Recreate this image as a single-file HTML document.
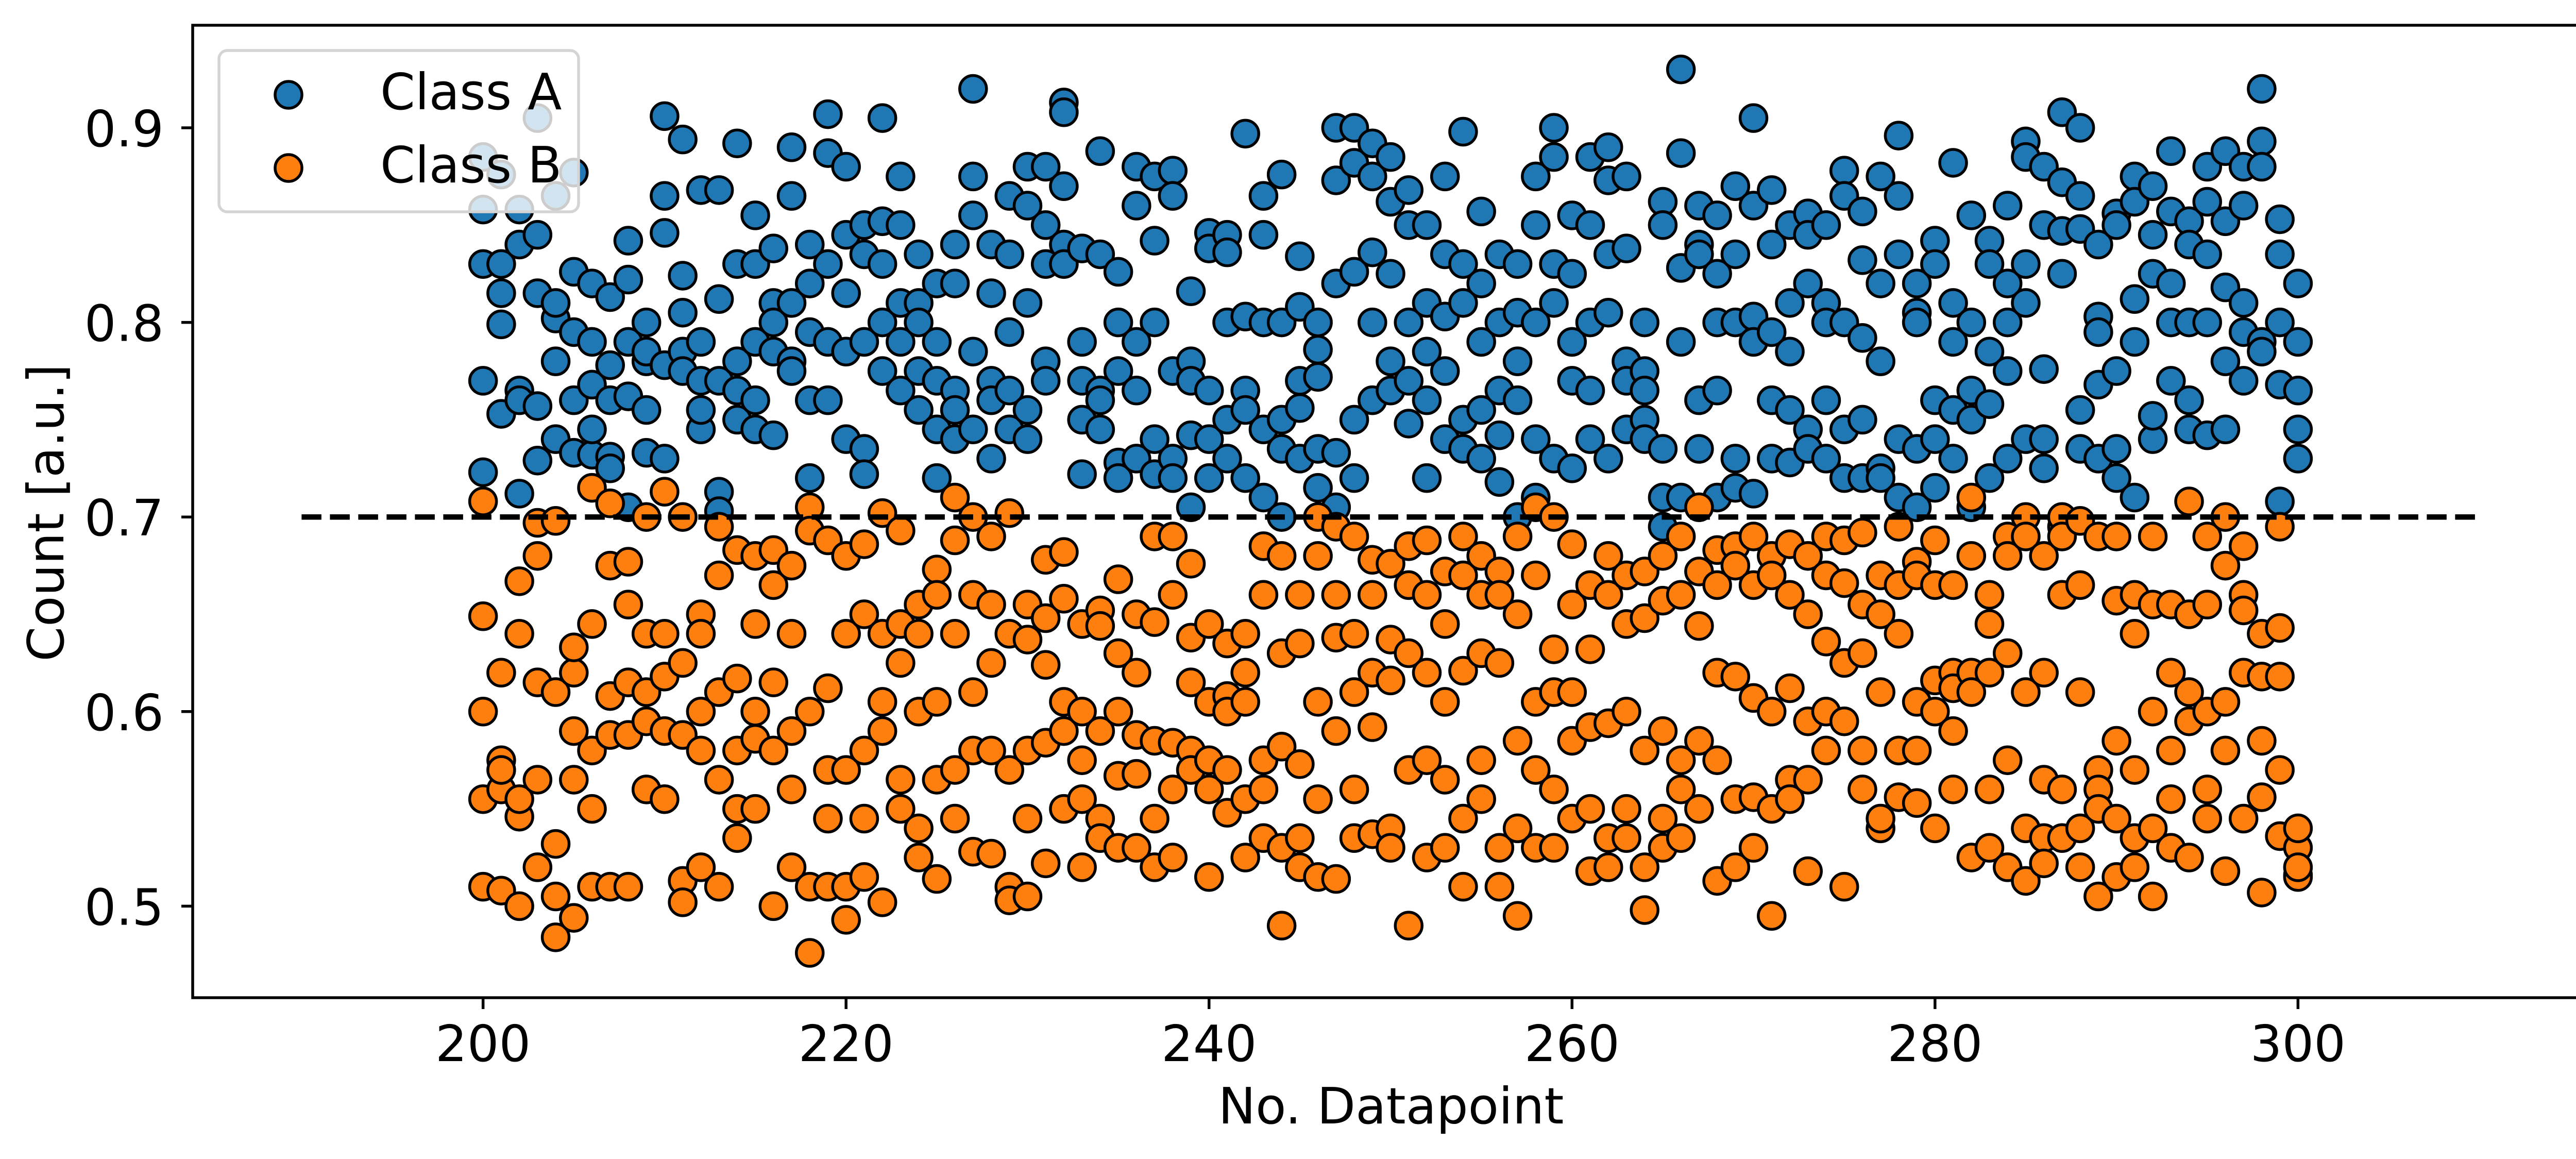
<!DOCTYPE html>
<html><head><meta charset="utf-8"><style>
html,body{margin:0;padding:0;background:#fff;}
svg{display:block;}
text{font-family:"DejaVu Sans","Liberation Sans",sans-serif;fill:#000;}
</style></head><body>
<svg id="chart" xmlns="http://www.w3.org/2000/svg" width="5074" height="2249" viewBox="0 0 5074 2249">
<rect x="0" y="0" width="5074" height="2249" fill="#fff"/>
<g id="marksA"></g>
<g id="marksB"></g>
<g id="axes"></g>
<g id="legend"></g>
</svg>
<script>
const xCategories = [200,201,202,203,204,205,206,207,208,209,210,211,212,213,214,215,216,217,218,219,220,221,222,223,224,225,226,227,228,229,230,231,232,233,234,235,236,237,238,239,240,241,242,243,244,245,246,247,248,249,250,251,252,253,254,255,256,257,258,259,260,261,262,263,264,265,266,267,268,269,270,271,272,273,274,275,276,277,278,279,280,281,282,283,284,285,286,287,288,289,290,291,292,293,294,295,296,297,298,299,300];
const classAValues = [
[.885,.858,.83,.723,.77],[.83,.799,.753,.876,.815],[.858,.765,.712,.76,.84],[.905,.845,.815,.757,.729],[.802,.81,.78,.865,.74],
[.877,.826,.733,.76,.795],[.768,.732,.745,.79,.82],[.813,.778,.731,.725,.76],[.842,.822,.762,.705,.79],[.8,.78,.755,.733,.785],
[.906,.865,.846,.778,.73],[.894,.824,.805,.785,.775],[.868,.79,.77,.745,.755],[.868,.812,.77,.713,.703],[.892,.83,.765,.78,.75],
[.855,.83,.79,.76,.745],[.838,.81,.785,.742,.8],[.89,.865,.78,.775,.81],[.84,.82,.795,.76,.72],[.907,.887,.83,.79,.76],
[.88,.845,.815,.785,.74],[.85,.835,.79,.735,.722],[.905,.852,.83,.8,.775],[.875,.85,.81,.79,.765],[.835,.81,.8,.775,.755],
[.82,.79,.77,.745,.72],[.84,.82,.765,.755,.74],[.92,.875,.855,.785,.745],[.84,.815,.77,.76,.73],[.865,.835,.795,.765,.745],
[.88,.86,.81,.755,.74],[.88,.85,.83,.78,.77],[.913,.908,.87,.84,.83],[.838,.79,.75,.722,.77],[.888,.835,.765,.745,.76],
[.826,.8,.775,.728,.72],[.88,.86,.79,.765,.73],[.875,.842,.8,.722,.74],[.878,.865,.775,.73,.72],[.816,.78,.77,.742,.705],
[.846,.838,.765,.74,.72],[.845,.836,.8,.75,.73],[.897,.803,.765,.755,.72],[.865,.845,.8,.745,.71],[.876,.8,.7,.735,.75],
[.834,.808,.77,.756,.73],[.8,.786,.772,.735,.715],[.9,.873,.82,.733,.705],[.9,.882,.826,.75,.72],[.892,.875,.836,.8,.76],
[.885,.862,.825,.78,.765],[.868,.85,.8,.77,.748],[.85,.81,.785,.76,.72],[.875,.835,.803,.775,.74],[.898,.83,.81,.75,.735],
[.857,.82,.79,.755,.73],[.835,.8,.765,.742,.718],[.83,.805,.78,.76,.7],[.875,.85,.8,.74,.71],[.9,.885,.83,.81,.73],
[.855,.825,.79,.77,.725],[.885,.85,.8,.765,.74],[.89,.873,.835,.805,.73],[.875,.838,.78,.77,.745],[.8,.775,.765,.75,.74],
[.862,.85,.735,.71,.695],[.93,.887,.828,.79,.71],[.86,.84,.835,.76,.735],[.855,.825,.8,.765,.71],[.87,.835,.8,.73,.715],
[.905,.86,.803,.79,.712],[.868,.84,.795,.76,.73],[.85,.81,.785,.755,.728],[.856,.845,.82,.745,.735],[.85,.81,.8,.76,.73],
[.878,.865,.8,.745,.72],[.857,.832,.792,.75,.72],[.875,.82,.78,.725,.72],[.896,.865,.835,.74,.71],[.82,.805,.8,.735,.705],
[.842,.83,.76,.74,.715],[.882,.81,.79,.755,.73],[.855,.8,.765,.75,.705],[.842,.83,.785,.758,.72],[.86,.82,.8,.775,.73],
[.893,.885,.83,.81,.74],[.88,.85,.776,.74,.725],[.908,.872,.847,.825,.695],[.9,.865,.848,.755,.735],[.84,.803,.795,.768,.73],
[.856,.85,.775,.735,.72],[.875,.862,.812,.79,.71],[.87,.845,.825,.74,.752],[.888,.857,.82,.8,.77],[.852,.84,.8,.76,.745],
[.88,.862,.835,.8,.742],[.888,.852,.818,.78,.745],[.88,.86,.81,.795,.77],[.92,.893,.88,.79,.785],[.853,.835,.8,.768,.708],[.82,.79,.765,.745,.73]
];
const classBValues = [
[.708,.649,.555,.51,.6],[.575,.56,.57,.508,.62],[.667,.64,.546,.5,.555],[.697,.68,.615,.565,.52],[.698,.61,.532,.505,.484],
[.62,.633,.59,.565,.494],[.715,.645,.58,.55,.51],[.707,.675,.608,.588,.51],[.677,.615,.588,.51,.655],[.7,.64,.61,.595,.56],
[.713,.64,.59,.618,.555],[.7,.625,.588,.513,.502],[.65,.64,.58,.52,.6],[.695,.67,.61,.565,.51],[.683,.617,.55,.535,.58],
[.68,.645,.6,.586,.55],[.683,.665,.615,.58,.5],[.675,.64,.59,.56,.52],[.705,.693,.6,.51,.476],[.688,.612,.57,.545,.51],
[.68,.64,.57,.51,.493],[.686,.65,.58,.545,.515],[.702,.64,.605,.59,.502],[.693,.645,.625,.565,.55],[.64,.655,.6,.54,.525],
[.673,.66,.605,.565,.514],[.71,.688,.64,.57,.545],[.7,.66,.61,.58,.528],[.69,.655,.625,.58,.527],[.702,.64,.57,.51,.503],
[.655,.637,.58,.545,.505],[.678,.648,.624,.584,.522],[.682,.658,.605,.59,.55],[.645,.6,.575,.555,.52],[.652,.644,.59,.545,.535],
[.668,.63,.6,.567,.53],[.65,.62,.588,.568,.53],[.69,.646,.585,.545,.52],[.69,.66,.584,.56,.525],[.676,.638,.615,.58,.57],
[.645,.605,.575,.56,.515],[.635,.608,.6,.57,.548],[.64,.62,.605,.555,.525],[.685,.66,.575,.56,.535],[.68,.63,.582,.53,.49],
[.66,.635,.573,.535,.52],[.7,.68,.605,.555,.515],[.695,.66,.638,.59,.514],[.69,.64,.61,.56,.535],[.678,.66,.62,.592,.537],
[.676,.637,.616,.54,.53],[.685,.665,.63,.57,.49],[.688,.66,.62,.575,.525],[.672,.645,.605,.565,.53],[.69,.67,.621,.545,.51],
[.68,.66,.63,.575,.555],[.672,.66,.625,.53,.51],[.69,.65,.585,.54,.495],[.705,.67,.605,.57,.53],[.7,.632,.61,.56,.53],
[.686,.655,.61,.585,.545],[.665,.632,.592,.55,.518],[.68,.66,.594,.535,.52],[.67,.645,.6,.55,.535],[.672,.648,.58,.52,.498],
[.68,.657,.59,.545,.53],[.69,.66,.575,.56,.535],[.705,.672,.644,.585,.55],[.683,.665,.62,.575,.513],[.685,.675,.618,.555,.52],
[.69,.665,.607,.556,.53],[.68,.67,.6,.55,.495],[.686,.66,.612,.565,.555],[.68,.65,.595,.565,.518],[.69,.67,.636,.58,.6],
[.688,.666,.625,.595,.51],[.692,.655,.63,.58,.56],[.67,.65,.61,.54,.545],[.695,.665,.64,.58,.556],[.677,.67,.605,.58,.553],
[.688,.665,.616,.6,.54],[.665,.62,.612,.59,.56],[.71,.68,.62,.61,.525],[.66,.645,.62,.56,.53],[.69,.68,.63,.575,.52],
[.7,.69,.61,.54,.513],[.68,.62,.565,.535,.522],[.7,.69,.66,.56,.535],[.698,.665,.61,.54,.52],[.69,.57,.56,.55,.505],
[.69,.657,.585,.545,.515],[.66,.64,.57,.535,.52],[.69,.655,.6,.54,.505],[.655,.62,.58,.555,.53],[.708,.65,.61,.595,.525],
[.69,.655,.6,.56,.545],[.7,.675,.605,.58,.518],[.685,.66,.652,.62,.545],[.64,.618,.585,.556,.507],[.695,.643,.618,.57,.536],[.516,.515,.53,.54,.52]
];
const xTickLabels = ["200","220","240","260","280","300"];
const xTickValues = [200,220,240,260,280,300];
const yTickLabels = ["0.5","0.6","0.7","0.8","0.9"];
const yTickValues = [0.5,0.6,0.7,0.8,0.9];
const thresholdValue = 0.7;
const thresholdRange = [190,310];

const NS = "http://www.w3.org/2000/svg";
const L = 374, R = 5024, T = 49, B = 1936;
const xMin = 184, xMax = 316, yMin = 0.45297, yMax = 0.95270;
function xs(v){ return L + (v - xMin) / (xMax - xMin) * (R - L); }
function ys(v){ return B - (v - yMin) / (yMax - yMin) * (B - T); }
function mk(tag, attrs, parent){ const e = document.createElementNS(NS, tag); for (const k in attrs) e.setAttribute(k, attrs[k]); parent.appendChild(e); return e; }

const gA = document.getElementById('marksA');
const gB = document.getElementById('marksB');
xCategories.forEach((xv, i) => {
  classAValues[i].forEach(yv => {
    const c = mk('circle', {cx: xs(xv), cy: ys(yv), r: 26, fill: '#1f77b4', stroke: '#000', 'stroke-width': 5.5}, gA);
    
    
  });
});
xCategories.forEach((xv, i) => {
  classBValues[i].forEach(yv => {
    const c = mk('circle', {cx: xs(xv), cy: ys(yv), r: 26, fill: '#ff7f0e', stroke: '#000', 'stroke-width': 5.5}, gB);
    
    
  });
});

const ax = document.getElementById('axes');
const th = mk('line', {x1: xs(thresholdRange[0]), x2: xs(thresholdRange[1]), y1: ys(thresholdValue), y2: ys(thresholdValue), stroke: '#000', 'stroke-width': 10.5, 'stroke-dasharray': '38.5 16.5'}, ax);


const frame = mk('rect', {x: L, y: T, width: R - L, height: B - T, fill: 'none', stroke: '#000', 'stroke-width': 5.5}, ax);


xTickValues.forEach((v, i) => {
  const t = mk('line', {x1: xs(v), x2: xs(v), y1: B, y2: B + 22, stroke: '#000', 'stroke-width': 5.5}, ax);
  
  
  const tx = mk('text', {x: xs(v), y: 2059, 'font-size': 97, 'text-anchor': 'middle'}, ax);
  tx.textContent = xTickLabels[i];
  
  
});
yTickValues.forEach((v, i) => {
  const t = mk('line', {x1: L - 22, x2: L, y1: ys(v), y2: ys(v), stroke: '#000', 'stroke-width': 5.5}, ax);
  
  
  const tx = mk('text', {x: 318, y: ys(v) + 36, 'font-size': 97, 'text-anchor': 'end'}, ax);
  tx.textContent = yTickLabels[i];
  
  
});
const xl = mk('text', {x: 2700, y: 2180, 'font-size': 97, 'text-anchor': 'middle'}, ax);
xl.textContent = 'No. Datapoint';


const yl = mk('text', {x: 0, y: 0, 'font-size': 97, 'text-anchor': 'middle', transform: 'translate(123,995) rotate(-90)'}, ax);
yl.textContent = 'Count [a.u.]';



const lg = document.getElementById('legend');
const box = mk('rect', {x: 425, y: 98, width: 698, height: 313, rx: 16, fill: '#fff', 'fill-opacity': 0.8, stroke: '#d4d4d4', 'stroke-width': 5.5}, lg);


[['Class A', '#1f77b4', 184], ['Class B', '#ff7f0e', 326]].forEach(([lab, col, y]) => {
  const m = mk('circle', {cx: 560, cy: y, r: 26, fill: col, stroke: '#000', 'stroke-width': 5.5}, lg);
  
  
  const t = mk('text', {x: 738, y: y + 28, 'font-size': 97}, lg);
  t.textContent = lab;
  
  
});
</script>
</body></html>
